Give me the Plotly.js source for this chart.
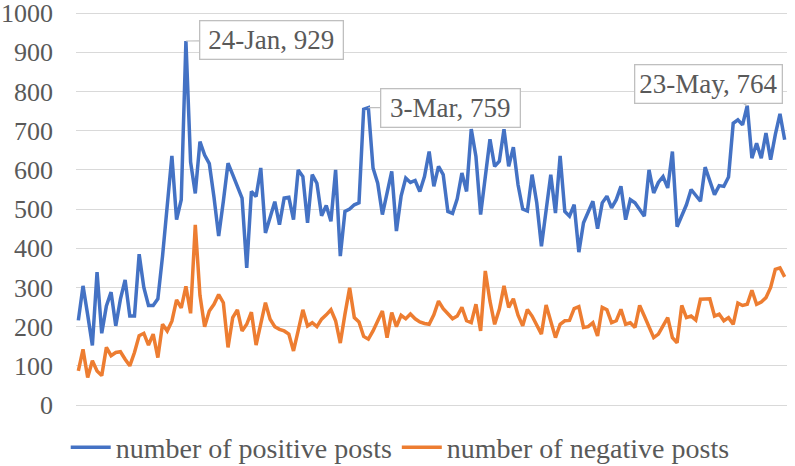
<!DOCTYPE html>
<html>
<head>
<meta charset="utf-8">
<script src="https://cdn.plot.ly/plotly-3.0.1.min.js"></script>
<style>
  html, body { margin: 0; padding: 0; background: #ffffff; }
  #chart { width: 795px; height: 466px; }
</style>
</head>
<body>
<div id="chart"></div>
<script>
// Daily values, 1 Jan 2020 .. 31 May 2020 (152 days)
const startDate = "2020-01-01";
const dayCount = 152;

const positivePosts = [
  216,304,230,152,339,183,253,288,202,270,
  319,227,227,385,300,254,254,271,380,500,
  636,473,524,929,620,540,672,638,616,530,
  431,520,617,588,558,528,350,545,532,605,
  439,481,519,460,528,530,473,600,583,465,
  588,566,483,509,469,600,380,494,500,511,
  516,755,759,605,566,486,540,596,444,533,
  579,568,573,545,583,647,558,609,588,494,
  489,526,592,545,704,634,486,580,678,609,
  622,704,609,658,562,500,495,588,516,405,
  500,588,490,636,494,482,511,390,465,494,
  520,450,516,533,503,524,558,473,524,516,
  500,482,600,541,568,583,554,647,455,485,
  511,550,535,520,607,570,537,560,558,582,
  719,728,715,764,630,668,630,694,626,690,
  743,677
];

const negativePosts = [
  87,142,70,113,87,75,147,126,134,136,
  117,100,134,177,183,153,181,121,206,189,
  214,268,248,303,234,460,280,200,240,257,
  282,261,147,223,243,189,206,237,153,205,
  261,219,200,193,189,181,138,190,243,202,
  210,200,219,230,243,215,158,232,299,223,
  212,175,168,189,215,240,172,236,200,229,
  220,232,220,212,208,206,230,265,246,232,
  220,227,249,215,210,257,189,342,265,206,
  244,304,249,271,229,202,244,227,206,181,
  255,215,172,206,215,216,246,251,198,200,
  210,176,249,243,210,215,244,206,210,198,
  254,227,200,172,181,202,223,172,159,254,
  223,227,217,270,271,271,227,232,215,223,
  206,260,254,257,293,257,263,274,300,346,
  350,327
];

const seriesNames = ["number of positive posts", "number of negative posts"];
const seriesColors = ["#4472C4", "#ED7D31"];

const yTickValues = [0, 100, 200, 300, 400, 500, 600, 700, 800, 900, 1000];

// Callout labels
const calloutDates = ["2020-01-24", "2020-03-03", "2020-05-23"];
const calloutLabels = ["24-Jan, 929", "3-Mar, 759", "23-May, 764"];
const calloutValues = [929, 759, 764];
const calloutOffsets = [[86, -1], [82, 0], [-39, -22]];
const calloutWidths = [140, 136, 144];

// Build category dates
const dates = [];
const d0 = new Date(startDate + "T00:00:00Z");
for (let i = 0; i < dayCount; i++) {
  const d = new Date(d0.getTime() + i * 86400000);
  dates.push(d.toISOString().slice(0, 10));
}

const font = "Liberation Serif, Times New Roman, serif";

const traces = [positivePosts, negativePosts].map((vals, k) => ({
  type: "scatter",
  mode: "lines",
  x: dates,
  y: vals,
  name: seriesNames[k],
  line: { color: seriesColors[k], width: 3.5 },
  hoverinfo: "skip"
}));

const annotations = calloutDates.map((d, k) => ({
  x: d, y: calloutValues[k], xref: "x", yref: "y",
  text: calloutLabels[k],
  showarrow: true, arrowhead: 0, arrowwidth: 1.2, arrowcolor: "#bfbfbf",
  ax: calloutOffsets[k][0], ay: calloutOffsets[k][1],
  standoff: 0,
  width: calloutWidths[k], height: 35,
  bgcolor: "#ffffff", bordercolor: "#bfbfbf", borderwidth: 1.3, borderpad: 1,
  font: { family: font, size: 27, color: "#595959" }
}));

const layout = {
  width: 795, height: 466,
  margin: { l: 76, r: 8, t: 12, b: 61, pad: 0, autoexpand: false },
  paper_bgcolor: "#ffffff", plot_bgcolor: "#ffffff",
  showlegend: true,
  legend: {
    orientation: "h", x: 0.456, xanchor: "center", y: -0.108, yanchor: "middle",
    font: { family: font, size: 28, color: "#595959" },
    itemwidth: 40, tracegroupgap: 0
  },
  xaxis: {
    type: "date",
    range: ["2019-12-31 12:00", "2020-05-31 12:00"],
    showgrid: false, showticklabels: false, ticks: "", zeroline: false, showline: false
  },
  yaxis: {
    range: [0, 1003], tickmode: "array", tickvals: yTickValues,
    showgrid: true, gridcolor: "#d9d9d9", gridwidth: 1,
    zeroline: true, zerolinecolor: "#d9d9d9", zerolinewidth: 1,
    showline: false, ticks: "",
    ticklabelstandoff: 22,
    ticklabeloverflow: "allow",
    tickfont: { family: font, size: 26, color: "#595959" }
  },
  annotations: annotations
};

Plotly.newPlot("chart", traces, layout, { staticPlot: true, displayModeBar: false });
</script>
</body>
</html>
